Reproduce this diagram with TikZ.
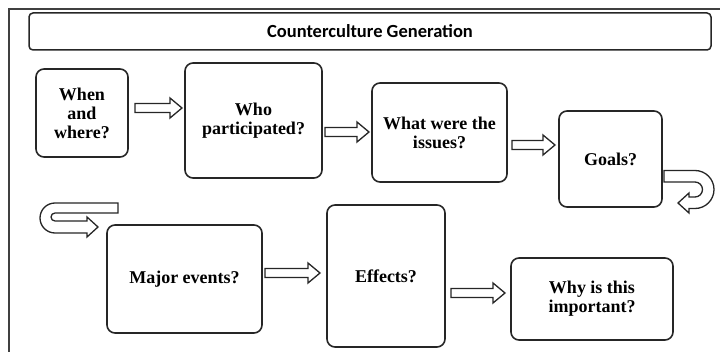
\documentclass[tikz,border=0pt]{standalone}
\usepackage{fontspec}
\setmainfont{Liberation Serif}
\newfontfamily\titlefont{Carlito}
\begin{document}
\begin{tikzpicture}[x=1pt,y=1pt,
  qbox/.style={draw=black!85, line width=1.6pt, rounded corners=8pt, align=center,
    font=\fontsize{18}{19}\selectfont\bfseries, inner sep=0pt},
  blockarrow/.style={draw=black!85, line width=1.3pt, fill=white, line join=miter},
  framel/.style={draw=black!75, line width=1.2pt}]
\useasboundingbox (0,0) rectangle (720,-352);
% outer frame
\draw[framel] (9,-352) -- (9,-9) -- (720,-9);
% title
\node[draw=black!85, line width=1.5pt, rounded corners=4pt, minimum width=682pt, minimum height=37pt,
  font=\titlefont\fontsize{18.5}{19}\selectfont\bfseries] (title) at (370,-31.5) {Counterculture Generation};
% boxes
\newcommand\qb[6]{\node[qbox, minimum width=#4pt-#2pt, minimum height=#5pt-#3pt] (#1) at ({(#2+#4)/2},{-(#3+#5)/2}) {#6};}
\qb{b1}{36}{69}{128}{157}{When\\and\\where?}
\qb{b2}{185}{63}{322}{178}{Who\\participated?}
\qb{b3}{372}{83}{507}{182}{What were the\\issues?}
\qb{b4}{559}{111}{662}{207}{Goals?}
\qb{b5}{107}{225}{262}{333}{Major events?}
\qb{b6}{327}{205}{445}{347}{Effects?}
\qb{b7}{511}{258}{673}{340}{Why is this\\important?}
% straight block arrows
\newcommand\barrow[3]{\draw[blockarrow] (#1,-#3+4.5) -- (#2-12,-#3+4.5) -- (#2-12,-#3+10) -- (#2,-#3) -- (#2-12,-#3-10) -- (#2-12,-#3-4.5) -- (#1,-#3-4.5) -- cycle;}
\barrow{135}{182}{108}
\barrow{325}{369}{132}
\barrow{512}{555}{145}
\barrow{265}{320}{273}
\barrow{451}{505}{293}
% U-turn right
\draw[blockarrow] (664,-170.5) -- (695,-170.5) arc[start angle=90, end angle=-90, radius=19]
  -- (689,-208.5) -- (689,-213) -- (678,-203) -- (689,-193) -- (689,-197) -- (695,-197)
  arc[start angle=-90, end angle=90, radius=7.5] -- (664,-182) -- cycle;
% U-turn left
\draw[blockarrow] (118,-203) -- (55,-203) arc[start angle=90, end angle=270, radius=15]
  -- (87,-233) -- (87,-237) -- (98,-227) -- (87,-217) -- (87,-221) -- (55,-221)
  arc[start angle=270, end angle=90, radius=4] -- (118,-213) -- cycle;
\end{tikzpicture}
\end{document}
